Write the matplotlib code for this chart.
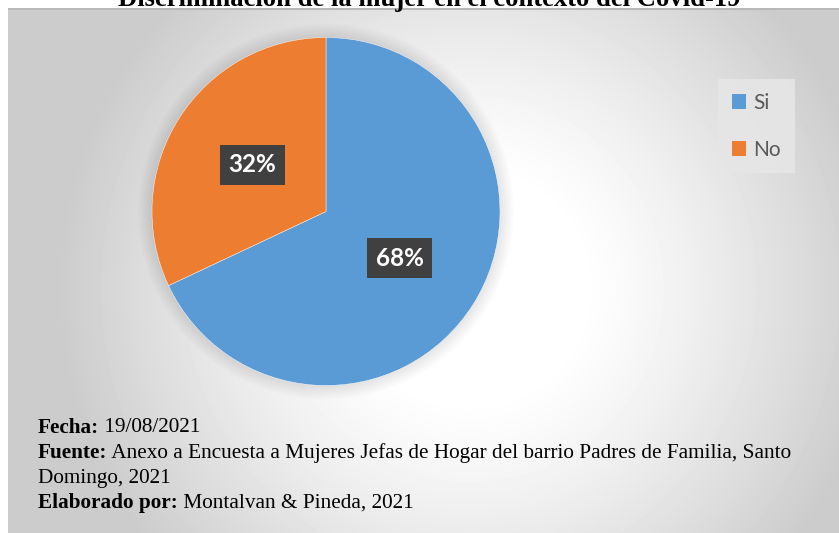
import numpy as np
import matplotlib.pyplot as plt
from matplotlib.patches import Patch, Circle

# Chart data
labels = ['Si', 'No']
values = [68, 32]
colors = ['#5b9bd5', '#ed7d31']

title = 'Discriminación de la mujer en el contexto del Covid-19'
footer = [
    ('Fecha:', ' 19/08/2021'),
    ('Fuente:', ' Anexo a Encuesta a Mujeres Jefas de Hogar del barrio Padres de Familia, Santo'),
    ('', 'Domingo, 2021'),
    ('Elaborado por:', ' Montalvan & Pineda, 2021'),
]

W, H = 839, 533
fig = plt.figure(figsize=(W / 100, H / 100), dpi=100)
fig.patch.set_facecolor('white')

# Background with radial gradient
bg = fig.add_axes([8 / W, 0, (W - 8) / W, (H - 8) / H])
yy, xx = np.mgrid[0:H - 8, 0:W - 8]
r = np.hypot(xx - 462, yy - 280)
t = np.clip((r - 110) / 300, 0, 1.0)
shade = 1.0 - 0.2 * t ** 1.2
bg.imshow(shade, cmap='gray', vmin=0, vmax=1, aspect='auto', interpolation='bilinear')
bg.axhline(0, color='#b8b8b8', lw=1.5)
bg.set_axis_off()

# Pie
cx, cy, rad = 326, 211.5, 174
half = rad * 1.12
ax = fig.add_axes([(cx - half) / W, (H - cy - half) / H, 2 * half / W, 2 * half / H])
for k in range(8):
    ax.add_patch(Circle((0, 0), 1.0 + 0.01 * (k + 1), color='black', alpha=0.012, lw=0, zorder=0))
wedges, texts, autotexts = ax.pie(
    values, colors=colors, startangle=90, counterclock=False,
    autopct='%1.0f%%', pctdistance=0.5, radius=1.0,
    wedgeprops=dict(edgecolor='white', linewidth=0.3),
    textprops=dict(color='white', fontsize=17.5, fontweight='bold', family='Lato'))
for t in autotexts:
    t.set_bbox(dict(boxstyle='square,pad=0.36', facecolor='#404040', edgecolor='none'))
ax.set_xlim(-1.12, 1.12)
ax.set_ylim(-1.12, 1.12)
ax.set_axis_off()

# Legend
handles = [Patch(facecolor=c, edgecolor='none') for c in colors]
leg = fig.legend(handles, labels, loc='upper left', bbox_to_anchor=(718 / W, 1 - 79 / H),
                 frameon=True, fancybox=False, facecolor='#e6e6e6', edgecolor='none',
                 framealpha=0.9, prop=dict(family='Lato', size=15), labelcolor='#595959',
                 handlelength=0.7, handleheight=0.7, handletextpad=0.35,
                 labelspacing=1.3, borderpad=0.65, borderaxespad=0)

# Title (clipped at the top, as in the source)
fig.text(429 / W, 1 - 6 / H, title, ha='center', va='baseline',
         family='Liberation Serif', fontweight='bold', fontsize=19.2)

# Footer notes: bold prefix followed by regular text
y0 = 428
for i, (b, rest) in enumerate(footer):
    y = 1 - (y0 + 25 * i) / H
    if b:
        tb = fig.text(38 / W, y, b, ha='left', va='center',
                      family='Liberation Serif', fontweight='bold', fontsize=15.3)
        fig.add_artist(plt.Annotation(rest, xy=(1, 0.5), xycoords=tb, va='center', ha='left',
                                      family='Liberation Serif', fontsize=15.3))
    else:
        fig.text(38 / W, y, rest, ha='left', va='center', family='Liberation Serif', fontsize=15.3)

fig.savefig('out.png', dpi=100)
